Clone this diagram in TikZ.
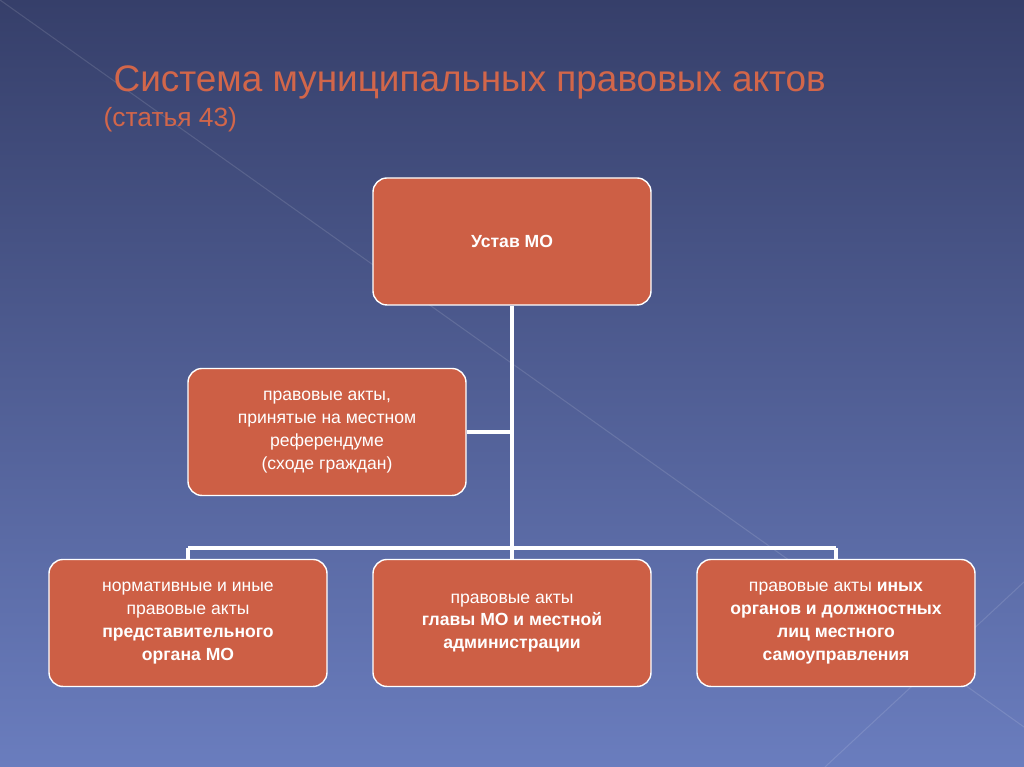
\documentclass[tikz,border=0pt]{standalone}
\usepackage{fontspec}
\setmainfont{Liberation Sans}
\usetikzlibrary{positioning}
\definecolor{boxred}{HTML}{CD5F45}
\definecolor{titlered}{HTML}{D2664A}
\definecolor{bgtop}{HTML}{363F6A}
\definecolor{bgbot}{HTML}{6A7DBE}
\tikzstyle{actbox} = [rectangle, rounded corners=8pt, draw=white, line width=0.8pt, fill=boxred,
                      text=white, minimum width=5.56cm, minimum height=2.54cm, align=center,
                      font=\fontsize{10}{13}\selectfont]
\tikzstyle{link} = [draw=white, line width=2.2pt]

\begin{document}
\begin{tikzpicture}
	\shade[top color=bgtop, bottom color=bgbot] (0, 0) rectangle (20.48, 15.34);
	\useasboundingbox (0, 0) rectangle (20.48, 15.34);
	\draw[white, opacity=0.12, line width=0.6pt] (0, 15.34) -- (20.48, 0.8);
	\draw[white, opacity=0.12, line width=0.6pt] (16.5, 0) -- (20.48, 3.7);

	% title
	\node (Title) [anchor=west, text=titlered, font=\fontsize{21}{24}\selectfont] at (2.15, 13.7)
		{Система муниципальных правовых актов};
	\node (Article) [anchor=west, text=titlered, font=\fontsize{15}{18}\selectfont] at (1.95, 12.95)
		{(статья 43)};

	% boxes
	\node (Charter) [actbox] at (10.24, 10.51) {\textbf{Устав МО}};
	\node (Referendum) [actbox] at (6.54, 6.70)
		{правовые акты,\\ принятые на местном\\ референдуме\\ (сходе граждан)};
	\node (Council) [actbox] at (3.76, 2.88)
		{нормативные и иные\\ правовые акты\\ \textbf{представительного}\\ \textbf{органа МО}};
	\node (Head) [actbox] at (10.24, 2.88)
		{правовые акты\\ \textbf{главы МО и местной}\\ \textbf{администрации}};
	\node (Other) [actbox] at (16.72, 2.88)
		{правовые акты \textbf{иных}\\ \textbf{органов и должностных}\\ \textbf{лиц местного}\\ \textbf{самоуправления}};

	% connectors
	\coordinate (Bus) at (10.24, 4.38);
	\coordinate (BusLeft) at (3.76, 4.38);
	\coordinate (BusRight) at (16.72, 4.38);
	\draw[link] (Charter.south) -- (Bus);
	\draw[link] (Referendum.east) -- (Referendum.east -| Charter.south);
	\draw[link] (BusLeft) -- (BusRight);
	\draw[link] (BusLeft) -- (Council.north);
	\draw[link] (Bus) -- (Head.north);
	\draw[link] (BusRight) -- (Other.north);
\end{tikzpicture}
\end{document}
